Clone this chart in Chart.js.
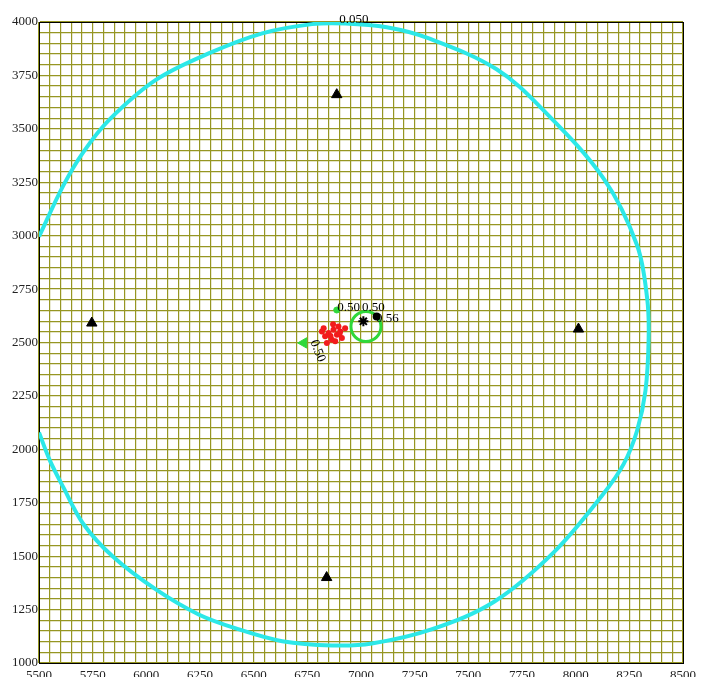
<!DOCTYPE html>
<html>
<head>
<meta charset="utf-8">
<script src="https://cdn.jsdelivr.net/npm/chart.js@4.4.1/dist/chart.umd.min.js"></script>
<style>
  html, body { margin: 0; padding: 0; background: #fff; overflow: hidden; }
  canvas { display: block; }
</style>
</head>
<body>
<canvas id="chart" width="701" height="681"></canvas>
<script>
const xTickLabels = [5500, 5750, 6000, 6250, 6500, 6750, 7000, 7250, 7500, 7750, 8000, 8250, 8500];
const yTickLabels = [1000, 1250, 1500, 1750, 2000, 2250, 2500, 2750, 3000, 3250, 3500, 3750, 4000];

// 0.050 contour, traced clockwise starting where it leaves the left edge
const contourX = [5500, 5613, 5705, 5829, 6046, 6293, 6540, 6772, 6927, 7120, 7313, 7630, 7846, 8132,
  8286, 8333, 8340, 8325, 8286, 8224, 8124, 7900, 7622, 7328, 7050, 6865, 6633, 6432, 6246, 6046,
  5844, 5705, 5613, 5551, 5500];
const contourY = [2995, 3234, 3389, 3544, 3730, 3854, 3947, 3990, 3993, 3975, 3924, 3780, 3591, 3265,
  2955, 2707, 2521, 2273, 2087, 1932, 1785, 1520, 1288, 1157, 1091, 1082, 1102, 1157, 1226, 1343,
  1498, 1653, 1823, 1947, 2079];

// stations
const stationX = [6887, 5746, 8013, 6840];
const stationY = [3660, 2591, 2563, 1400];

// located events
const eventX = [6826, 6849, 6872, 6888, 6903, 6911, 6864, 6841, 6895, 6880, 6833, 6926, 6818, 6858, 6900, 6870];
const eventY = [2567, 2544, 2560, 2536, 2552, 2521, 2513, 2498, 2575, 2506, 2529, 2567, 2552, 2530, 2540, 2585];

// green source markers
const loopX = [7023], loopY = [2575];
const arrowX = [6733], arrowY = [2498];
const dotX = [6887], dotY = [2652];

// black markers next to the loop
const markX = [7011, 7073], markY = [2599, 2622];

const contourLabels = [
  { text: '0.050', x: 6967, y: 4010, angle: 0 },
  { text: '0.50', x: 6942, y: 2665, angle: 0 },
  { text: '0.50', x: 7058, y: 2665, angle: 0 },
  { text: '0.56', x: 7123, y: 2612, angle: 0 },
  { text: '0.50', x: 6798, y: 2460, angle: 68 }
];

const pts = (xs, ys) => xs.map((x, i) => ({ x: x, y: ys[i] }));

const gridColor = '#969622';

const framePlugin = {
  id: 'frame',
  beforeDatasetsDraw(chart) {
    const a = chart.chartArea, ctx = chart.ctx;
    ctx.save();
    ctx.strokeStyle = '#000';
    ctx.lineWidth = 1;
    ctx.strokeRect(a.left + 0.5, a.top + 0.5, a.right - a.left, a.bottom - a.top);
    ctx.restore();
  }
};

const labelPlugin = {
  id: 'contourLabels',
  afterDatasetsDraw(chart) {
    const ctx = chart.ctx, xs = chart.scales.x, ys = chart.scales.y;
    ctx.save();
    ctx.fillStyle = '#000';
    ctx.font = '13px "Liberation Serif"';
    ctx.textAlign = 'center';
    ctx.textBaseline = 'middle';
    contourLabels.forEach(l => {
      ctx.save();
      ctx.translate(xs.getPixelForValue(l.x), ys.getPixelForValue(l.y));
      ctx.rotate(l.angle * Math.PI / 180);
      ctx.fillText(l.text, 0, 0);
      ctx.restore();
    });
    ctx.restore();
  }
};

new Chart(document.getElementById('chart'), {
  type: 'scatter',
  data: {
    datasets: [
      {
        data: pts(markX, markY),
        pointStyle: ['star', 'circle'],
        pointRadius: [5, 3],
        borderColor: '#000',
        backgroundColor: '#000',
        borderWidth: 2
      },
      {
        data: pts(loopX, loopY),
        pointStyle: 'circle',
        pointRadius: 15,
        borderColor: '#2fd83a',
        backgroundColor: 'rgba(0,0,0,0)',
        borderWidth: 3
      },
      {
        data: pts(arrowX, arrowY),
        pointStyle: 'triangle',
        rotation: -90,
        pointRadius: 6,
        borderColor: '#2fd83a',
        backgroundColor: '#2fd83a'
      },
      {
        data: pts(dotX, dotY),
        pointRadius: 3,
        borderColor: '#2fd83a',
        backgroundColor: '#2fd83a'
      },
      {
        data: pts(eventX, eventY),
        pointRadius: 3,
        borderWidth: 0,
        backgroundColor: '#f21c1c'
      },
      {
        data: pts(stationX, stationY),
        pointStyle: 'triangle',
        pointRadius: 6,
        borderColor: '#000',
        backgroundColor: '#000'
      },
      {
        data: pts(contourX, contourY),
        showLine: true,
        tension: 0.35,
        pointRadius: 0,
        borderColor: '#2ce8e8',
        borderWidth: 4,
        fill: false
      }
    ]
  },
  options: {
    responsive: false,
    animation: false,
    layout: { padding: { top: 22, right: 12, left: 0, bottom: 0 } },
    plugins: { legend: { display: false }, tooltip: { enabled: false } },
    scales: {
      x: {
        type: 'linear',
        min: 5500,
        max: 8500,
        afterFit: s => { s.height = 14; },
        ticks: {
          stepSize: 50,
          autoSkip: false,
          maxRotation: 0,
          padding: 0,
          // tall line height drops the labels without widening the side padding
          font: { family: 'Liberation Serif', size: 13, lineHeight: 1.95 },
          color: '#222',
          callback: v => xTickLabels.includes(v) ? String(v) : ''
        },
        grid: { color: gridColor, lineWidth: 1.2, drawTicks: false },
        border: { color: '#000', width: 1 }
      },
      y: {
        type: 'linear',
        min: 1000,
        max: 4000,
        afterFit: s => { s.width = 39; },
        ticks: {
          stepSize: 50,
          autoSkip: false,
          padding: 1,
          font: { family: 'Liberation Serif', size: 13 },
          color: '#222',
          callback: v => yTickLabels.includes(v) ? String(v) : ''
        },
        grid: { color: gridColor, lineWidth: 1.2, drawTicks: false },
        border: { color: '#000', width: 1 }
      }
    }
  },
  plugins: [framePlugin, labelPlugin]
});
</script>
</body>
</html>
